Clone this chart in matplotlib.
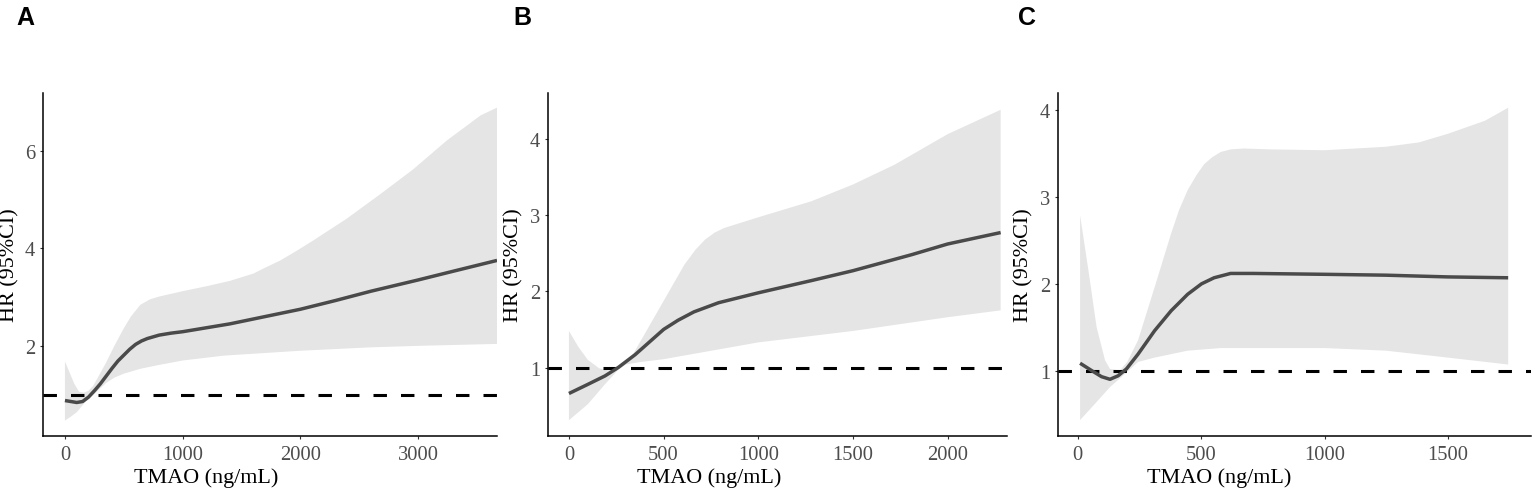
import matplotlib
matplotlib.use("Agg")
import matplotlib.pyplot as plt

plt.rcParams['font.family'] = ['Liberation Serif', 'DejaVu Serif']

# ---- panel A ----
a_x = [0, 50, 100, 150, 200, 250, 300, 350, 400, 450, 500, 550, 600, 650, 700,
       800, 900, 1000, 1200, 1400, 1600, 1800, 2000, 2300, 2600, 3000, 3300, 3670]
a_hr = [0.88, 0.86, 0.84, 0.86, 0.95, 1.08, 1.22, 1.38, 1.54, 1.69, 1.81, 1.93, 2.03, 2.10, 2.15,
        2.22, 2.26, 2.29, 2.37, 2.45, 2.55, 2.65, 2.75, 2.93, 3.12, 3.35, 3.53, 3.75]
a_up_x = [0, 40, 80, 120, 160, 200, 240, 300, 350, 420, 500, 560, 640, 720, 800, 1000,
          1200, 1400, 1600, 1700, 1830, 1970, 2110, 2390, 2680, 2960, 3240, 3530, 3670]
a_up = [1.68, 1.45, 1.22, 1.06, 1.04, 1.08, 1.18, 1.44, 1.66, 2.0, 2.36, 2.6, 2.84, 2.95, 3.01, 3.12,
        3.22, 3.33, 3.48, 3.60, 3.75, 3.95, 4.16, 4.60, 5.11, 5.62, 6.2, 6.72, 6.88]
a_lo_x = [0, 50, 100, 180, 270, 350, 420, 500, 640, 780, 1000, 1350, 2000, 2600, 3000, 3670]
a_lo = [0.47, 0.55, 0.64, 0.87, 1.06, 1.24, 1.35, 1.43, 1.53, 1.60, 1.70, 1.80, 1.90, 1.97, 2.0, 2.04]

# ---- panel B ----
b_x = [0, 100, 190, 260, 350, 450, 500, 576, 660, 790, 1000, 1280, 1500, 1810, 2000, 2280]
b_hr = [0.66, 0.78, 0.89, 1.0, 1.17, 1.39, 1.50, 1.62, 1.73, 1.85, 1.98, 2.14, 2.27, 2.48, 2.62, 2.77]
b_up_x = [0, 50, 100, 160, 210, 260, 300, 340, 400, 490, 610, 670, 720, 770, 820, 1000, 1280, 1500, 1720, 2000, 2280]
b_up = [1.48, 1.27, 1.10, 0.99, 0.96, 1.02, 1.08, 1.18, 1.44, 1.83, 2.35, 2.55, 2.68, 2.77, 2.83, 2.97, 3.18, 3.40, 3.66, 4.06, 4.38]
b_lo_x = [0, 100, 190, 260, 300, 370, 500, 750, 1000, 1500, 2000, 2280]
b_lo = [0.31, 0.52, 0.78, 0.97, 1.04, 1.07, 1.11, 1.22, 1.33, 1.48, 1.66, 1.75]

# ---- panel C ----
c_x = [9, 56, 96, 130, 163, 197, 244, 311, 378, 445, 501, 552, 619, 712, 1000, 1248, 1500, 1744]
c_hr = [1.085, 1.0, 0.93, 0.90, 0.94, 1.02, 1.19, 1.46, 1.69, 1.88, 2.0, 2.07, 2.12, 2.12, 2.11, 2.10, 2.08, 2.07]
c_up_x = [9, 43, 76, 110, 130, 170, 200, 244, 311, 378, 410, 445, 480, 512, 545, 579, 620, 672,
          779, 1000, 1248, 1382, 1500, 1650, 1744]
c_up = [2.79, 2.15, 1.5, 1.12, 1.02, 1.0, 1.1, 1.35, 1.96, 2.58, 2.85, 3.08, 3.25, 3.38, 3.46, 3.52, 3.55, 3.56,
        3.55, 3.54, 3.58, 3.63, 3.73, 3.88, 4.03]
c_lo_x = [9, 70, 130, 190, 244, 311, 445, 579, 1000, 1248, 1500, 1744]
c_lo = [0.43, 0.62, 0.81, 0.96, 1.10, 1.15, 1.23, 1.26, 1.26, 1.23, 1.15, 1.07]

panels = [
    dict(tag='A', x=a_x, hr=a_hr, ux=a_up_x, up=a_up, lx=a_lo_x, lo=a_lo,
         xlim=(-184, 3670), ylim=(0.16, 7.18), xt=[0, 1000, 2000, 3000], yt=[2, 4, 6],
         rect=[0.0282, 0.107, 0.2956, 0.7008], lab_x=0.3586, ylab_x=-0.0734, tag_x=16),
    dict(tag='B', x=b_x, hr=b_hr, ux=b_up_x, up=b_up, lx=b_lo_x, lo=b_lo,
         xlim=(-109, 2315), ylim=(0.107, 4.6), xt=[0, 500, 1000, 1500, 2000], yt=[1, 2, 3, 4],
         rect=[0.3572, 0.107, 0.299, 0.7008], lab_x=0.351, ylab_x=-0.0747, tag_x=513),
    dict(tag='C', x=c_x, hr=c_hr, ux=c_up_x, up=c_up, lx=c_lo_x, lo=c_lo,
         xlim=(-79, 1836), ylim=(0.25, 4.20), xt=[0, 500, 1000, 1500], yt=[1, 2, 3, 4],
         rect=[0.6895, 0.107, 0.3078, 0.7008], lab_x=0.341, ylab_x=-0.0726, tag_x=1018),
]

fig = plt.figure(figsize=(15.35, 4.89), dpi=100)

for p in panels:
    ax = fig.add_axes(p['rect'])
    poly_x = list(p['ux']) + list(p['lx'])[::-1]
    poly_y = list(p['up']) + list(p['lo'])[::-1]
    ax.fill(poly_x, poly_y, color='#e5e5e5', lw=0, zorder=1)
    ax.plot(p['x'], p['hr'], color='#4a4a4a', lw=2.5, solid_capstyle='butt',
            solid_joinstyle='round', zorder=3)
    ax.axhline(1, color='black', lw=2.2, dashes=(4.4, 4.6), zorder=2)

    ax.set_xlim(*p['xlim'])
    ax.set_ylim(*p['ylim'])
    ax.set_xticks(p['xt'])
    ax.set_yticks(p['yt'])
    for s in ['top', 'right']:
        ax.spines[s].set_visible(False)
    for s in ['left', 'bottom']:
        ax.spines[s].set_linewidth(1.1)
        ax.spines[s].set_color('black')
    ax.tick_params(axis='both', length=2.5, width=0.8, color='#333333',
                   labelsize=14.8, labelcolor='#4d4d4d')
    ax.tick_params(axis='x', pad=4.2)
    ax.tick_params(axis='y', pad=3.3)

    ax.set_xlabel('TMAO (ng/mL)', fontsize=15.9, color='black')
    ax.xaxis.set_label_coords(p['lab_x'], -0.135)
    ax.xaxis.label.set_va('baseline')
    ax.set_ylabel('HR (95%CI)', fontsize=15.9, color='black')
    ax.yaxis.set_label_coords(p['ylab_x'], 0.5)
    ax.yaxis.label.set_va('center')

    fig.text(p['tag_x'] / 1535, 1 - 25 / 489, p['tag'], fontsize=18, fontweight='bold',
             family=['Liberation Sans', 'DejaVu Sans'], va='baseline', ha='left')

fig.savefig('out.png', dpi=100)
